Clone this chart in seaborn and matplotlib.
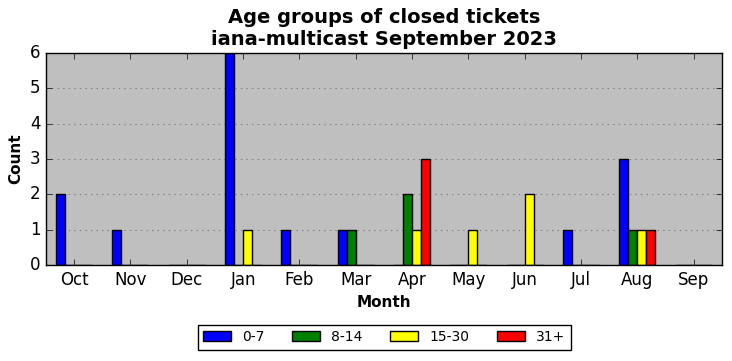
import numpy as np
import pandas as pd
import matplotlib
matplotlib.use('Agg')
import matplotlib.pyplot as plt
import seaborn as sns

# data
months = ['Oct', 'Nov', 'Dec', 'Jan', 'Feb', 'Mar', 'Apr', 'May', 'Jun', 'Jul', 'Aug', 'Sep']
age_groups = ['0-7', '8-14', '15-30', '31+']
counts_0_7 = [2, 1, 0, 6, 1, 1, 0, 0, 0, 1, 3, 0]
counts_8_14 = [0, 0, 0, 0, 0, 1, 2, 0, 0, 0, 1, 0]
counts_15_30 = [0, 0, 0, 1, 0, 0, 1, 1, 2, 0, 1, 0]
counts_31 = [0, 0, 0, 0, 0, 0, 3, 0, 0, 0, 1, 0]
colors = ['#0000ff', '#008000', '#ffff00', '#ff0000']

series = [counts_0_7, counts_8_14, counts_15_30, counts_31]
df = pd.DataFrame({
    'Month': months * len(age_groups),
    'Age': np.repeat(age_groups, len(months)),
    'Count': np.concatenate(series),
})

plt.style.use('classic')
fig = plt.figure(figsize=(7.32, 3.61), dpi=100, facecolor='white')
ax = fig.add_axes([0.0628, 0.266, 0.9235, 0.587])
ax.set_facecolor('#bfbfbf')

sns.barplot(data=df, x='Month', y='Count', hue='Age', order=months,
            hue_order=age_groups, palette=colors, saturation=1,
            width=0.64, edgecolor='black', linewidth=1, ax=ax)

ax.set_xlim(-0.5, len(months) - 0.5)
ax.set_ylim(0, 6)
ax.set_yticks(range(0, 7))
ax.yaxis.grid(True, color='gray', linestyle=':', linewidth=0.8)
ax.xaxis.grid(False)
ax.set_axisbelow(True)

ax.set_title('Age groups of closed tickets\niana-multicast September 2023',
             fontsize=14, fontweight='bold', y=1.005)
ax.set_xlabel('Month', fontsize=11, fontweight='bold')
ax.set_ylabel('Count', fontsize=11, fontweight='bold')
ax.tick_params(labelsize=12)

handles, labels = ax.get_legend_handles_labels()
ax.get_legend().remove()
fig.legend(handles, labels, loc='lower center', bbox_to_anchor=(0.525, 0.012),
           ncol=4, fontsize=10, frameon=True, fancybox=False,
           handlelength=2.0, columnspacing=2.0)

fig.savefig('out.png', dpi=100, facecolor='white')
